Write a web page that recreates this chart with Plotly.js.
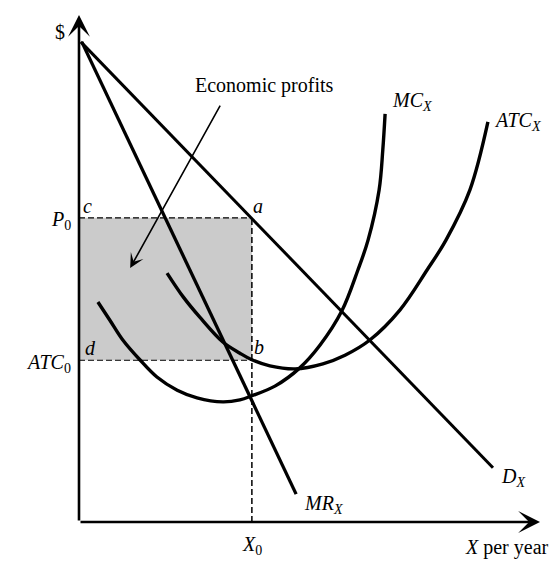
<!DOCTYPE html>
<html>
<head>
<meta charset="utf-8">
<script src="https://cdn.plot.ly/plotly-3.0.1.min.js"></script>
<style>html,body{margin:0;padding:0;background:#fff;}#chart{width:551px;height:561px;}</style>
</head>
<body>
<div id="chart"></div>
<script>
// Quantity (x) and dollar (y) values, in arbitrary units (0..100)
const demandX = [0.4, 89.8];
const demandY = [94.7, 10.7];
const mrX = [0.6, 47.1];
const mrY = [94.7, 5.5];
const mcX = [4.1, 6.7, 9.5, 13.2, 16.9, 21.3, 25.6, 31.2, 34.9, 37.5, 42.5, 47.9, 52.3, 57.0, 60.5, 62.7, 65.1, 65.9, 66.4];
const mcY = [43.4, 39.8, 35.9, 32.0, 28.6, 26.0, 24.5, 23.7, 24.1, 24.9, 26.8, 30.4, 34.9, 41.6, 49.7, 55.6, 65.5, 73.4, 80.5];
const atcX = [19.1, 22.6, 26.2, 31.2, 34.9, 37.5, 41.4, 46.9, 52.9, 57.7, 63.1, 69.6, 75.5, 79.6, 84.8, 88.7];
const atcY = [49.1, 44.4, 40.4, 35.5, 33.3, 32.0, 30.8, 30.2, 31.2, 32.9, 35.9, 41.8, 49.7, 55.6, 65.5, 78.9];
const X0 = 37.5;
const P0 = 60.0;
const ATC0 = 31.9;
const xMax = 100;
const yMax = 100;

const serif = '"Liberation Serif", "Times New Roman", serif';
const black = '#000';

const curve = (x, y, w, shape) => ({
  x: x, y: y, type: 'scatter', mode: 'lines',
  line: {color: black, width: w, shape: shape || 'linear', smoothing: 1},
  hoverinfo: 'skip', cliponaxis: false
});

const dashed = (x, y, w) => ({
  x: x, y: y, type: 'scatter', mode: 'lines',
  line: {color: black, width: w, dash: '6px,3px'}, hoverinfo: 'skip'
});

const data = [
  dashed([0, X0], [P0, P0], 1.3),
  dashed([X0, X0], [0, P0], 1.5),
  dashed([0, X0], [ATC0, ATC0], 1.0),
  curve(demandX, demandY, 3),
  curve(mrX, mrY, 3.3),
  curve(mcX, mcY, 3.4, 'spline'),
  curve(atcX, atcY, 3.4, 'spline')
];

// labels placed in paper coordinates (data value / axis max) so they show outside the plot too
const lab = (text, x, y, opts) => Object.assign({
  text: text, x: x / xMax, y: y / yMax, xref: 'paper', yref: 'paper', showarrow: false,
  xanchor: 'center', yanchor: 'middle',
  font: {family: serif, size: 20, color: black}
}, opts || {});

const annotations = [
  // axes with arrow heads
  {x: xMax, y: 0, ax: 0, ay: 0, axref: 'x', ayref: 'y', xref: 'x', yref: 'y', text: '',
   showarrow: true, arrowhead: 3, arrowsize: 1.4, arrowwidth: 2.6, arrowcolor: black, standoff: 0},
  {x: 0, y: yMax, ax: 0, ay: 0, axref: 'x', ayref: 'y', xref: 'x', yref: 'y', text: '',
   showarrow: true, arrowhead: 3, arrowsize: 1.4, arrowwidth: 2.6, arrowcolor: black, standoff: 0},
  // economic profits pointer
  {x: 11.1, y: 50.1, ax: 30.8, ay: 82.4, axref: 'x', ayref: 'y', xref: 'x', yref: 'y', text: '',
   showarrow: true, arrowhead: 3, arrowsize: 1.5, arrowwidth: 1.6, arrowcolor: black, standoff: 0},
  lab('Economic profits', 40.3, 86.0),
  lab('$', -4.1, 96.6),
  lab('<i>P</i><sub>0</sub>', -1.3, P0 - 0.6, {xanchor: 'right'}),
  lab('<i>ATC</i><sub>0</sub>', -1.3, ATC0 - 0.6, {xanchor: 'right'}),
  lab('<i>c</i>', 1.9, 62.4),
  lab('<i>a</i>', 38.8, 62.4),
  lab('<i>d</i>', 2.6, 34.3),
  lab('<i>b</i>', 39.0, 34.5),
  lab('<i>X</i><sub>0</sub>', X0, -4.6),
  lab('<i>MR</i><sub><i>X</i></sub>', 53.1, 3.4),
  lab('<i>D</i><sub><i>X</i></sub>', 94.1, 8.8),
  lab('<i>MC</i><sub><i>X</i></sub>', 72.2, 82.9),
  lab('<i>ATC</i><sub><i>X</i></sub>', 95.2, 79.0),
  lab('<i>X</i> per year', 83.3, -5.0, {xanchor: 'left'})
];

const layout = {
  width: 551, height: 561,
  margin: {l: 79, r: 11, t: 15, b: 39, pad: 0},
  paper_bgcolor: '#fff', plot_bgcolor: '#fff',
  showlegend: false,
  xaxis: {range: [0, xMax], visible: false, fixedrange: true},
  yaxis: {range: [0, yMax], visible: false, fixedrange: true},
  shapes: [
    {type: 'rect', xref: 'x', yref: 'y', x0: 0, x1: X0, y0: ATC0, y1: P0,
     fillcolor: '#cbcbcb', line: {width: 0}, layer: 'below'}
  ],
  annotations: annotations
};

Plotly.newPlot('chart', data, layout, {displayModeBar: false, staticPlot: true});
</script>
</body>
</html>
